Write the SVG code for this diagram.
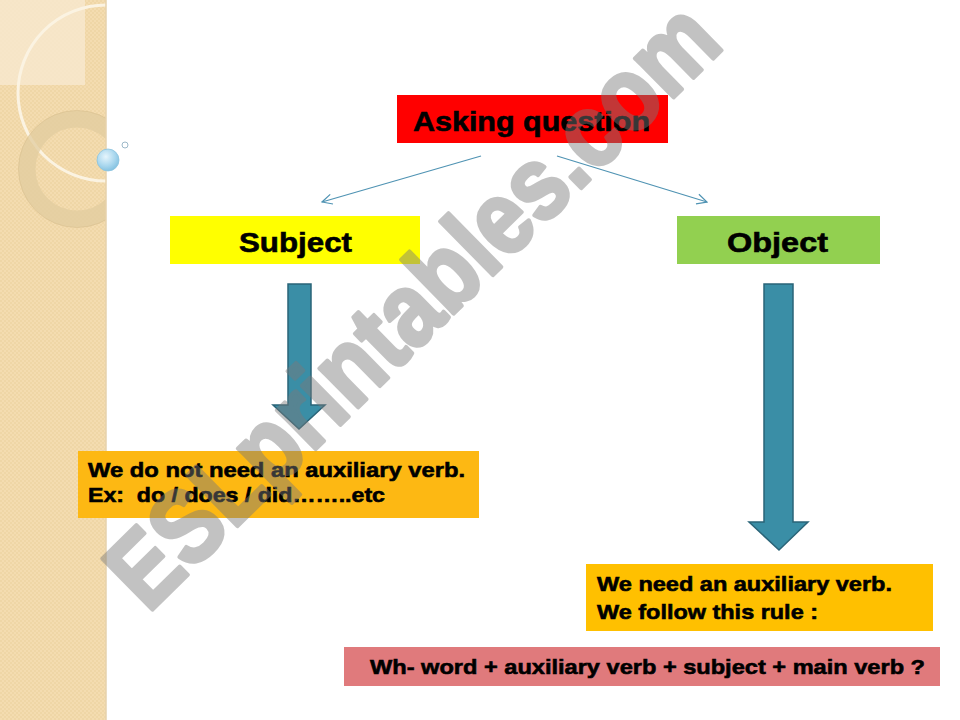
<svg xmlns="http://www.w3.org/2000/svg" width="960" height="720" viewBox="0 0 960 720">
<style>
  .t { font-family: "Liberation Sans", Arial, sans-serif; font-weight: bold; fill: #000; stroke: #000; stroke-width: 0.6; }
  .h { font-size: 28px; }
  .b { font-size: 21px; }
  .conn { stroke: #4f93b3; stroke-width: 1.2; fill: none; }
  .blk { fill: #3a8ea6; stroke: #2a6478; stroke-width: 1.5; }
</style>
<defs>
  <pattern id="chk" width="4" height="4" patternUnits="userSpaceOnUse">
    <rect width="4" height="4" fill="#f4dcb0"/>
    <rect width="2" height="2" fill="#efd6a6"/>
    <rect x="2" y="2" width="2" height="2" fill="#efd6a6"/>
  </pattern>
  <clipPath id="panel"><rect x="0" y="0" width="106" height="720"/></clipPath>
  <radialGradient id="bub" cx="0.4" cy="0.35" r="0.7">
    <stop offset="0" stop-color="#e6f5fc"/>
    <stop offset="0.6" stop-color="#a9d7ee"/>
    <stop offset="1" stop-color="#7fbfdf"/>
  </radialGradient>
  <marker id="open" viewBox="0 0 12 12" refX="11" refY="6" markerWidth="12" markerHeight="12" markerUnits="userSpaceOnUse" orient="auto">
    <path d="M1,1 L11,6 L1,11" fill="none" stroke="#4f93b3" stroke-width="1.2"/>
  </marker>
</defs>

<rect width="960" height="720" fill="#ffffff"/>

<!-- left decorative panel -->
<g id="panel-deco">
  <rect x="0" y="0" width="106" height="720" fill="url(#chk)"/>
  <g clip-path="url(#panel)">
    <rect x="0" y="0" width="85" height="85" fill="#f7e9cf" opacity="0.8"/>
    <circle cx="106" cy="93" r="88" fill="none" stroke="#fbf3e2" stroke-width="3"/>
    <circle cx="77" cy="169" r="50" fill="none" stroke="#e2cc9f" stroke-width="17" opacity="0.75"/>
    <circle cx="77" cy="169" r="58.5" fill="none" stroke="#d8c090" stroke-width="1" opacity="0.6"/>
  </g>
  <line x1="106" y1="0" x2="106" y2="720" stroke="#e6d2ad" stroke-width="1.5"/>
  <circle cx="108" cy="160" r="11" fill="url(#bub)" stroke="#8cc3de" stroke-width="0.8"/>
  <circle cx="125" cy="145" r="3" fill="#ffffff" stroke="#9cb8c8" stroke-width="1"/>
</g>

<!-- connectors -->
<g id="connectors">
  <line class="conn" x1="481" y1="156" x2="322" y2="202" marker-end="url(#open)"/>
  <line class="conn" x1="557" y1="156" x2="707" y2="202" marker-end="url(#open)"/>
  <path class="blk" d="M288,284 L311,284 L311,405 L325,405 L299,429 L273,405 L288,405 Z"/>
  <path class="blk" d="M764,284 L793,284 L793,522 L808,522 L779,550 L749,522 L764,522 Z"/>
</g>

<g id="asking">
  <rect x="397" y="95" width="271" height="48" fill="#ff0000"/>
  <text class="t h" x="413" y="131" textLength="237" lengthAdjust="spacingAndGlyphs">Asking question</text>
</g>

<g id="subject">
  <rect x="170" y="216" width="250" height="48" fill="#ffff00"/>
  <text class="t h" x="239" y="252" textLength="113" lengthAdjust="spacingAndGlyphs">Subject</text>
</g>

<g id="object">
  <rect x="677" y="216" width="203" height="48" fill="#92d050"/>
  <text class="t h" x="727" y="252" textLength="101" lengthAdjust="spacingAndGlyphs">Object</text>
</g>

<g id="subject-note">
  <rect x="78" y="451" width="401" height="67" fill="#fdb813"/>
  <text class="t b" x="88" y="477" textLength="377" lengthAdjust="spacingAndGlyphs">We do not need an auxiliary verb.</text>
  <text class="t b" x="88" y="502" textLength="297" lengthAdjust="spacingAndGlyphs" xml:space="preserve">Ex:  do / does / did……..etc</text>
</g>

<g id="object-note">
  <rect x="586" y="564" width="347" height="67" fill="#ffc000"/>
  <text class="t b" x="597" y="591" textLength="295" lengthAdjust="spacingAndGlyphs">We need an auxiliary verb.</text>
  <text class="t b" x="597" y="619" textLength="221" lengthAdjust="spacingAndGlyphs">We follow this rule :</text>
</g>

<g id="rule">
  <rect x="344" y="647" width="596" height="39" fill="#e07a7c"/>
  <text class="t b" x="370" y="674" textLength="555" lengthAdjust="spacingAndGlyphs">Wh- word + auxiliary verb + subject + main verb ?</text>
</g>

<!-- watermark -->
<g id="watermark" opacity="0.45">
  <text x="0" y="0" transform="translate(148,614) rotate(-44.5)" font-family="'Liberation Sans', Arial, sans-serif" font-weight="bold" font-size="104" fill="#7a7a7a" stroke="#7a7a7a" stroke-width="4" stroke-linejoin="round" textLength="810" lengthAdjust="spacingAndGlyphs">ESLprintables.com</text>
</g>
</svg>
